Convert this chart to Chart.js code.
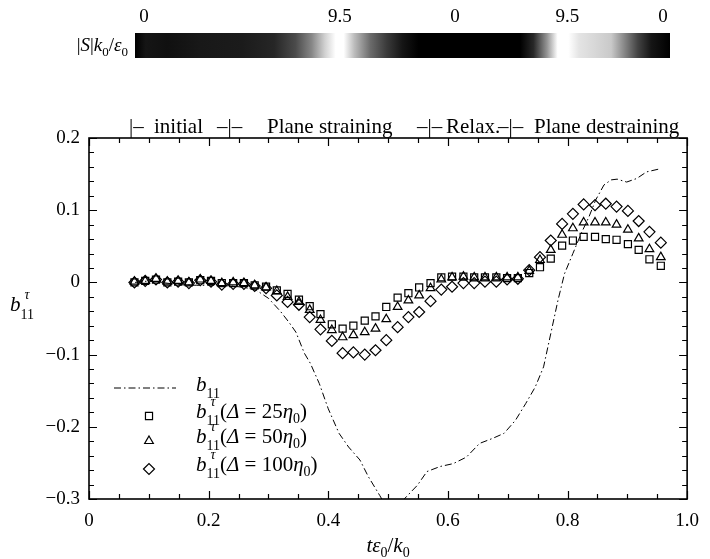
<!DOCTYPE html>
<html><head><meta charset="utf-8">
<script src="https://cdn.jsdelivr.net/npm/chart.js@4/dist/chart.umd.min.js"></script>
<style>html,body{margin:0;padding:0;background:#fff;}canvas{display:block;}</style>
</head><body>
<canvas id="c" width="710" height="559"></canvas>
<script>
// ---------- data ----------
const tValues = [0.076,0.094,0.112,0.131,0.149,0.167,0.186,0.204,0.222,0.241,0.259,0.277,0.296,0.314,0.332,0.351,0.369,0.387,0.406,0.424,0.442,0.461,0.479,0.497,0.516,0.534,0.552,0.571,0.589,0.607,0.626,0.644,0.662,0.681,0.699,0.717,0.736,0.754,0.772,0.791,0.809,0.827,0.846,0.864,0.882,0.901,0.919,0.937,0.956];
const tau25 = [0,0.002,0.004,0,0.001,0,0.003,0.002,-0.001,-0.001,-0.001,-0.004,-0.006,-0.011,-0.016,-0.024,-0.033,-0.044,-0.058,-0.064,-0.060,-0.053,-0.047,-0.034,-0.021,-0.015,-0.007,-0.001,0.007,0.008,0.008,0.007,0.007,0.007,0.006,0.006,0.013,0.021,0.033,0.051,0.058,0.063,0.063,0.060,0.059,0.053,0.045,0.032,0.023];
const tau50 = [0.001,0.002,0.005,0.001,0.002,0,0.004,0.002,-0.001,0,-0.001,-0.004,-0.007,-0.012,-0.020,-0.027,-0.038,-0.052,-0.066,-0.076,-0.073,-0.069,-0.064,-0.051,-0.034,-0.025,-0.018,-0.008,0.004,0.007,0.008,0.007,0.007,0.007,0.007,0.007,0.016,0.031,0.045,0.066,0.075,0.083,0.083,0.083,0.080,0.073,0.061,0.046,0.035];
const tau100 = [0,0.002,0.004,0,0.001,-0.001,0.003,0.001,-0.003,-0.002,-0.002,-0.005,-0.008,-0.018,-0.027,-0.031,-0.048,-0.065,-0.081,-0.098,-0.097,-0.100,-0.094,-0.080,-0.062,-0.048,-0.041,-0.026,-0.010,-0.006,-0.001,-0.001,0.001,0.001,0.004,0.005,0.017,0.035,0.058,0.081,0.095,0.108,0.107,0.109,0.105,0.099,0.085,0.070,0.055];
const b11Time = [0.077,0.10,0.12,0.15,0.18,0.21,0.24,0.26,0.28,0.30,0.32,0.335,0.346,0.36,0.37,0.385,0.40,0.418,0.434,0.453,0.467,0.486,0.50,0.515,0.527,0.549,0.565,0.587,0.609,0.631,0.653,0.675,0.694,0.713,0.73,0.746,0.76,0.772,0.784,0.795,0.809,0.823,0.836,0.847,0.861,0.873,0.883,0.899,0.916,0.932,0.953];
const b11Values = [0,0.002,0,-0.003,-0.004,-0.004,-0.005,-0.007,-0.011,-0.022,-0.040,-0.056,-0.069,-0.098,-0.112,-0.140,-0.175,-0.209,-0.228,-0.246,-0.269,-0.295,-0.315,-0.322,-0.300,-0.281,-0.262,-0.255,-0.251,-0.242,-0.223,-0.216,-0.209,-0.191,-0.168,-0.145,-0.117,-0.071,-0.025,0.012,0.040,0.068,0.091,0.114,0.135,0.142,0.143,0.139,0.144,0.153,0.157];
const xTickLabels = ['0','0.2','0.4','0.6','0.8','1.0'];
const yTickLabels = ['\u22120.3','\u22120.2','\u22120.1','0','0.1','0.2'];
const colorbarPos = [0,0.02,0.06,0.12,0.2,0.26,0.3,0.33,0.355,0.375,0.39,0.41,0.44,0.47,0.5,0.53,0.72,0.745,0.77,0.79,0.81,0.83,0.86,0.89,0.915,0.94,0.965,1];
const colorbarS = [0,0.8,0.6,0.9,1.0,1.4,2.8,5.0,7.8,9.5,9.5,7.0,4.0,2.2,0.8,0,0,1.5,5.5,9.5,9.5,8.5,8.0,7.5,5.0,2.5,0.8,0];
const colorbarMax = 9.5;
const colorbarTickLabels = ['0','9.5','0','9.5','0'];
const colorbarTickPos = [0.017,0.383,0.598,0.808,0.987];
const phaseLabels = ['|\u2013','initial','\u2013|\u2013','Plane straining','\u2013|\u2013','Relax.','\u2013|\u2013','Plane destraining'];

// ---------- helpers ----------
const SERIF = '"Liberation Serif", "Times New Roman", serif';
function font(size, italic){ return (italic?'italic ':'') + size + 'px ' + SERIF; }
// parts: [text, size, italic, dy, advance(default true), dx]
function richWidth(ctx, parts){
  let w=0; parts.forEach(p=>{ ctx.font=font(p[1],p[2]); if(p[4]!==false) w+=ctx.measureText(p[0]).width; }); return w;
}
function drawRich(ctx, x, y, parts, align){
  let cx = x;
  if(align==='center') cx = x - richWidth(ctx,parts)/2;
  else if(align==='right') cx = x - richWidth(ctx,parts);
  ctx.textBaseline='alphabetic'; ctx.textAlign='left'; ctx.fillStyle='#000';
  parts.forEach(p=>{
    ctx.font=font(p[1],p[2]);
    ctx.fillText(p[0], cx + (p[5]||0), y + (p[3]||0));
    if(p[4]!==false) cx += ctx.measureText(p[0]).width;
  });
}
function pts(xs, ys){ return xs.map((x,i)=>({x:x, y:ys[i]})); }

// ---------- plugins ----------
const decor = {
  id:'decor',
  afterDraw(chart){
    const {ctx, chartArea:a, scales:{x,y}} = chart;
    ctx.save();
    // frame
    ctx.strokeStyle='#000'; ctx.lineWidth=1.6;
    ctx.strokeRect(a.left, a.top, a.right-a.left, a.bottom-a.top);
    // inward ticks
    ctx.lineWidth=1.2; ctx.beginPath();
    for(let i=0;i<=20;i++){
      const px = Math.round(x.getPixelForValue(i*0.05))+0.5, L = (i%4===0)?8:5;
      ctx.moveTo(px,a.bottom); ctx.lineTo(px,a.bottom-L);
      ctx.moveTo(px,a.top); ctx.lineTo(px,a.top+L);
    }
    for(let i=0;i<=25;i++){
      const py = Math.round(y.getPixelForValue(-0.3+i*0.02))+0.5, L = (i%5===0)?8:5;
      ctx.moveTo(a.left,py); ctx.lineTo(a.left+L,py);
      ctx.moveTo(a.right,py); ctx.lineTo(a.right-L,py);
    }
    ctx.stroke();

    // axis titles
    drawRich(ctx, 10, 311, [['b',21,true,0],['\u03c4',14,true,-12,false,4],['11',14,false,8]], 'left');
    drawRich(ctx, (a.left+a.right)/2, 552, [['t',21,true],['\u03b5',21,true],['0',14,false,5],['/',21,false],['k',21,true],['0',14,false,5]], 'center');

    // legend
    const lx0=114, lx1=176, mx=149, tx=196;
    ctx.strokeStyle='#000'; ctx.lineWidth=1; ctx.setLineDash([7,3,1.5,3]);
    ctx.beginPath(); ctx.moveTo(lx0,388); ctx.lineTo(lx1,388); ctx.stroke(); ctx.setLineDash([]);
    drawRich(ctx, tx, 391, [['b',21,true],['11',14,false,7]], 'left');
    const rows = [['rect',5,416,'25'],['triangle',5,441,'50'],['rectRot',5.5,469,'100']];
    rows.forEach(r=>{
      ctx.lineWidth=1.2; ctx.strokeStyle='#000'; ctx.fillStyle='rgba(0,0,0,0)';
      Chart.helpers.drawPoint(ctx, {pointStyle:r[0], radius:r[1], borderWidth:1.2}, mx, r[2]);
      drawRich(ctx, tx, r[2]+2, [['b',21,true],['\u03c4',14,true,-12,false,4],['11',14,false,7],['(',21,false],['\u0394',21,true],[' = '+r[3],21,false],['\u03b7',21,true],['0',14,false,5],[')',21,false]], 'left');
    });

    // colorbar
    const cx0=135, cx1=670, cy0=33, cy1=58;
    const g = ctx.createLinearGradient(cx0,0,cx1,0);
    colorbarPos.forEach((p,i)=>{ const v=Math.round(255*colorbarS[i]/colorbarMax); g.addColorStop(p,'rgb('+v+','+v+','+v+')'); });
    ctx.fillStyle=g; ctx.fillRect(cx0,cy0,cx1-cx0,cy1-cy0);
    ctx.fillStyle='#000'; ctx.font=font(19,false); ctx.textAlign='center'; ctx.textBaseline='alphabetic';
    colorbarTickLabels.forEach((s,i)=>{ ctx.fillText(s, cx0+colorbarTickPos[i]*(cx1-cx0), 22); });
    drawRich(ctx, 128, 51, [['|',19,false],['S',19,true],['|',19,false],['k',19,true],['0',13,false,5],['/',19,false],['\u03b5',19,true],['0',13,false,5]], 'right');

    // phase labels
    const phaseX = [129,154,217,267,417,446,498,534];
    ctx.font=font(21,false); ctx.textAlign='left'; ctx.fillStyle='#000';
    phaseLabels.forEach((s,i)=>ctx.fillText(s, phaseX[i], 133));
    ctx.restore();
  }
};

const markerStyle = {backgroundColor:'rgba(0,0,0,0)', borderColor:'#000', borderWidth:1.2, showLine:false};
new Chart(document.getElementById('c'), {
  type:'scatter',
  data:{ datasets:[
    {label:'b11', data:pts(b11Time,b11Values), showLine:true, borderColor:'#000', borderWidth:1, borderDash:[7,3,1.5,3], pointRadius:0, tension:0, fill:false},
    Object.assign({label:'25', data:pts(tValues,tau25), pointStyle:'rect', pointRadius:5}, markerStyle),
    Object.assign({label:'50', data:pts(tValues,tau50), pointStyle:'triangle', pointRadius:5}, markerStyle),
    Object.assign({label:'100', data:pts(tValues,tau100), pointStyle:'rectRot', pointRadius:5.5}, markerStyle)
  ]},
  options:{
    responsive:false, animation:false, devicePixelRatio:1,
    layout:{padding:{top:138,right:12,left:0,bottom:0}},
    plugins:{legend:{display:false}, tooltip:{enabled:false}},
    scales:{
      x:{type:'linear', min:0, max:1,
        grid:{display:false, drawTicks:false}, border:{display:false},
        ticks:{stepSize:0.2, padding:11, color:'#000', font:{family:SERIF, size:19}, maxRotation:0,
          callback:(v)=>xTickLabels[Math.round(v*5)]},
        afterFit:(s)=>{s.height=60;}},
      y:{type:'linear', min:-0.3, max:0.2,
        grid:{display:false, drawTicks:false}, border:{display:false},
        ticks:{stepSize:0.1, padding:9, color:'#000', font:{family:SERIF, size:19},
          callback:(v)=>yTickLabels[Math.round((v+0.3)*10)]},
        afterFit:(s)=>{s.width=89;}}
    }
  },
  plugins:[decor]
});
</script>
</body></html>
